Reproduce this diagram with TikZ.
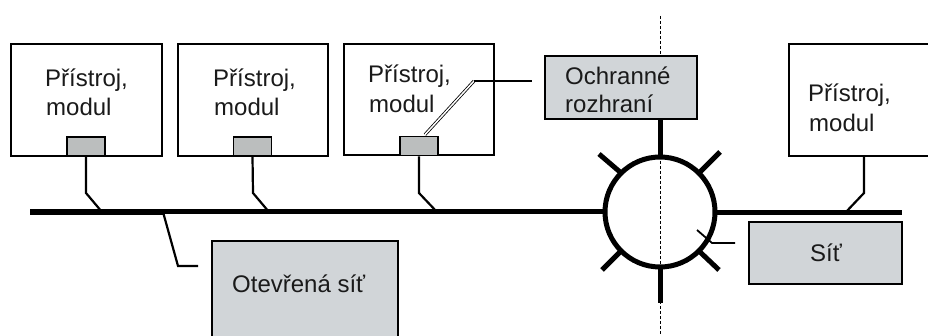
\documentclass[tikz,border=0pt]{standalone}
\usepackage{fontspec}
\setmainfont{Liberation Sans}
\usetikzlibrary{calc}
\definecolor{boxgray}{HTML}{D1D5D8}
\definecolor{portgray}{HTML}{BBBEBE}
\definecolor{txt}{HTML}{1A1A1A}
\tikzset{
  dev/.style={draw=black, line width=1.8pt, fill=white, inner sep=0pt},
  port/.style={draw=black, line width=1.8pt, fill=portgray, inner sep=0pt, minimum width=38pt, minimum height=19pt},
  graybox/.style={draw=black, line width=2pt, fill=boxgray, inner sep=0pt},
  lbl/.style={anchor=base west, inner sep=0pt, text=txt, font=\fontsize{24}{29}\selectfont},
  wire/.style={line width=2.2pt},
  bus/.style={line width=5pt},
  spike/.style={line width=5pt},
}
\begin{document}
\begin{tikzpicture}[x=1pt, y=-1pt]
\useasboundingbox (0,0) rectangle (928,336);
\clip (0,0) rectangle (928,336);
\fill[white] (0,0) rectangle (928,336);

% dashed boundary
\coordinate (dtop) at (660,16);
\coordinate (dbot) at (660,340);
\draw[line width=1pt, dash pattern=on 3pt off 2pt] (dtop) -- (dbot);

% device boxes
\node[dev, minimum width=151pt, minimum height=112pt] (d1) at (86.5,100) {};
\node[dev, minimum width=150pt, minimum height=112pt] (d2) at (253,100) {};
\node[dev, minimum width=150pt, minimum height=111pt] (d3) at (419,99.5) {};
\node[dev, minimum width=150pt, minimum height=112pt] (d4) at (864,100) {};

% ports
\node[port] (p1) at (86,146.5) {};
\node[port] (p2) at (252.5,146.5) {};
\node[port] (p3) at (419,146) {};

% labels in device boxes
\node[lbl] (t1a) at (45,87) {Přístroj,};
\node[lbl] (t1b) at (46,116) {modul};
\node[lbl] (t2a) at (213,87) {Přístroj,};
\node[lbl] (t2b) at (214,116) {modul};
\node[lbl] (t3a) at (368,83) {Přístroj,};
\node[lbl] (t3b) at (369,113) {modul};
\node[lbl] (t4a) at (808,102) {Přístroj,};
\node[lbl] (t4b) at (809,132) {modul};

% protective interface box
\node[graybox, minimum width=152pt, minimum height=63pt] (och) at (621,87.5) {};
\node[lbl] (toa) at (565,85) {Ochranné};
\node[lbl] (tob) at (565,113) {rozhraní};

% network box (right)
\node[graybox, line width=2.5pt, minimum width=153pt, minimum height=62pt] (sit) at (825.5,253) {};
\node[lbl, anchor=base] (tsit) at (826,262) {Síť};

% open network box
\node[graybox, line width=1.8pt, minimum width=186pt, minimum height=120pt] (open) at (305,301) {};
\node[lbl] (topen) at (232,293) {Otevřená síť};

% ring
\coordinate (c) at (660,212);
\draw[line width=5pt] (c) circle (55pt);

% bus
\coordinate (busL) at (30,212);
\coordinate (busM) at (163,212);
\coordinate (busR1) at (605,212);
\coordinate (busR2) at (715,213);
\coordinate (busE) at (902,213);
\draw[line width=6pt] (busL) -- (busM);
\draw[bus] (busM) -- (busR1);
\draw[bus] (busR2) -- (busE);

% device wires
\draw[wire] (p1.south) -- (86,193) -- (102,212);
\draw[wire] (p2.south) -- (253,193) -- (269,212);
\draw[wire] (p3.south) -- (419,193) -- (437,212);
\draw[wire] (d4.south) -- (864,193) -- (845,213);

% spikes
\draw[spike] (c |- och.south) -- ($(c)+(0,-55)$);
\draw[spike] ($(c)+(0,55)$) -- (660,303);
\draw[spike] ($(c)+(-40,-40)$) -- ($(c)+(-61,-58)$);
\draw[spike] ($(c)+(40,-40)$) -- ($(c)+(60,-60)$);
\draw[spike] ($(c)+(-40,40)$) -- ($(c)+(-58,58)$);
\draw[spike] ($(c)+(40,40)$) -- ($(c)+(59,58)$);

% pointer from port 3 to protective interface
\coordinate (pk) at (474,81);
\coordinate (pe) at (532,81);
\draw[double=white, double distance=1.5pt, line width=0.8pt] ($(p3.north)+(6,-1)$) -- (pk);
\draw[wire] (pk) -- (pe);

% pointer to open network
\coordinate (ok) at (178,266);
\coordinate (oe) at (198,266);
\draw[wire] (busM) -- (ok) -- (oe);

% pointer to Sit
\coordinate (sa) at (697,230);
\coordinate (sk) at (712,243);
\coordinate (se) at (735,243);
\draw[line width=1.8pt] (sa) -- (sk) -- (se);
\end{tikzpicture}
\end{document}
